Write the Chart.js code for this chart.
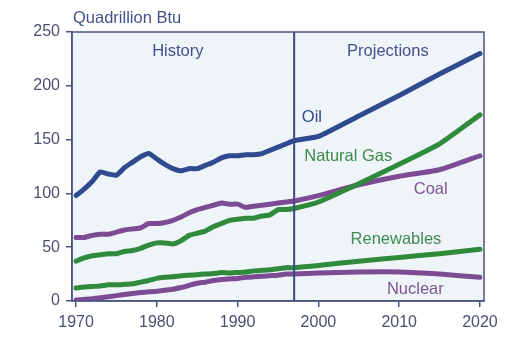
<!DOCTYPE html>
<html>
<head>
<meta charset="utf-8">
<script src="https://cdn.jsdelivr.net/npm/chart.js@4/dist/chart.umd.min.js"></script>
<style>
html,body{margin:0;padding:0;background:#fff;}
#wrap{width:526px;height:356px;position:relative;}
</style>
</head>
<body>
<div id="wrap"><canvas id="c" width="526" height="356"></canvas></div>
<script>
const years = [1970,1971,1972,1973,1974,1975,1976,1977,1978,1979,1980,1981,1982,1983,1984,1985,1986,1987,1988,1989,1990,1991,1992,1993,1994,1995,1996,1997,2000,2005,2010,2015,2020];
const oil = [98,104,111,120,118,117,124,129,134,137,132,127,123,121,123,123,126,129,133,135,135,136,136,137,140,143,146,149,153,172,191,211,230];
const naturalGas = [37,40,42,43,44,44,46,47,49,52,54,54,53,56,61,63,65,69,72,75,76,77,77,79,80,85,85,86,92,109,127,146,173];
const coal = [59,59,61,62,62,64,66,67,68,72,72,73,75,78,82,85,87,89,91,90,90,87,88,89,90,91,92,93,98,108,116,122,135];
const renewables = [12,13,13.5,14,15,15,15.5,16,17.5,19,21,22,22.5,23.5,24,24.5,25,25.5,26.5,26,26.5,27,28,28.5,29,30,31,31,33,37,40.5,44,48];
const nuclear = [1,1.5,2,3,4,5,6,7,8,8.5,9,10,11,12.5,14.5,16.5,17.5,19,20,20.5,21,22,22.5,23,23.5,24,25,25,26,27,27,25,22];
const xTicks = [1970,1980,1990,2000,2010,2020];
const yTicks = [0,50,100,150,200,250];
const splitYear = 1997;
const seriesLabels = ["Oil","Natural Gas","Coal","Renewables","Nuclear"];
const labelPos = [[1999.2,171],[2003.7,134],[2013.9,104],[2009.6,57.5],[2012,11]];
const sectionLabels = ["History","Projections"];
const sectionPos = [[1982.6,231.6],[2008.6,231.6]];
const unitLabel = "Quadrillion Btu";

const NAVY = "#2f4a8e", GREEN = "#2f8a3c", PURPLE = "#7d4b93";
const AXIS = "#4a5580", TEXT = "#4a5070";
const FONT = "'Liberation Sans', Arial, sans-serif";
const colors = [NAVY, GREEN, PURPLE, GREEN, PURPLE];
const labelColors = ["#34498a","#3a8a4a","#7e5495","#3f8a55","#7e5495"];
const seriesData = [oil, naturalGas, coal, renewables, nuclear];

const datasets = seriesData.map((arr,i)=>({
  label: seriesLabels[i],
  data: arr.map((v,j)=>({x:years[j], y:v})),
  borderColor: colors[i],
  borderWidth: 5,
  pointRadius: 0,
  tension: 0.15,
  borderCapStyle: 'round',
  borderJoinStyle: 'round',
  fill: false
}));

const decor = {
  id: 'decor',
  beforeDraw(chart){
    const {ctx, chartArea:a} = chart;
    ctx.save();
    ctx.fillStyle = "#eef4f8";
    ctx.fillRect(a.left, a.top, a.right-a.left, a.bottom-a.top);
    ctx.restore();
  },
  afterDatasetsDraw(chart){
    const {ctx, chartArea:a, scales:{x,y}} = chart;
    ctx.save();
    ctx.strokeStyle = "#3a4a86";
    ctx.lineWidth = 2;
    const sx = x.getPixelForValue(splitYear);
    ctx.beginPath(); ctx.moveTo(sx, a.top); ctx.lineTo(sx, a.bottom); ctx.stroke();
    ctx.strokeStyle = AXIS;
    ctx.lineWidth = 1.5;
    ctx.strokeRect(a.left, a.top, a.right-a.left, a.bottom-a.top);
    ctx.font = "16.5px " + FONT;
    ctx.textAlign = "center";
    ctx.textBaseline = "middle";
    ctx.fillStyle = "#44508a";
    sectionLabels.forEach((t,i)=>{
      ctx.fillText(t, x.getPixelForValue(sectionPos[i][0]), y.getPixelForValue(sectionPos[i][1]));
    });
    seriesLabels.forEach((t,i)=>{
      ctx.fillStyle = labelColors[i];
      ctx.fillText(t, x.getPixelForValue(labelPos[i][0]), y.getPixelForValue(labelPos[i][1]));
    });
    ctx.fillStyle = "#44508a";
    ctx.textAlign = "left";
    ctx.textBaseline = "alphabetic";
    ctx.fillText(unitLabel, a.left + 1, 23);
    ctx.restore();
  }
};

new Chart(document.getElementById('c'), {
  type: 'line',
  data: { datasets },
  options: {
    responsive: false,
    animation: false,
    layout: { padding: { top: 32, right: 42, left: 0, bottom: 0 } },
    plugins: { legend: { display: false }, tooltip: { enabled: false } },
    scales: {
      x: {
        type: 'linear',
        min: 1969.5, max: 2020.5,
        afterBuildTicks(s){ s.ticks = xTicks.map(v=>({value:v})); },
        afterFit(s){ s.height = 55; },
        grid: { drawOnChartArea: false, drawTicks: true, tickLength: 6, color: AXIS, lineWidth: 1.5 },
        border: { display: true, color: AXIS, width: 1.5 },
        ticks: { color: TEXT, font: { family: FONT, size: 16 }, padding: 6, maxRotation: 0, callback: v => String(v) }
      },
      y: {
        min: 0, max: 250,
        afterBuildTicks(s){ s.ticks = yTicks.map(v=>({value:v})); },
        afterFit(s){ s.width = 72; },
        grid: { drawOnChartArea: false, drawTicks: true, tickLength: 6, color: AXIS, lineWidth: 1.5 },
        border: { display: true, color: AXIS, width: 1.5 },
        ticks: { color: TEXT, font: { family: FONT, size: 16 }, padding: 6 }
      }
    }
  },
  plugins: [decor]
});
</script>
</body>
</html>
